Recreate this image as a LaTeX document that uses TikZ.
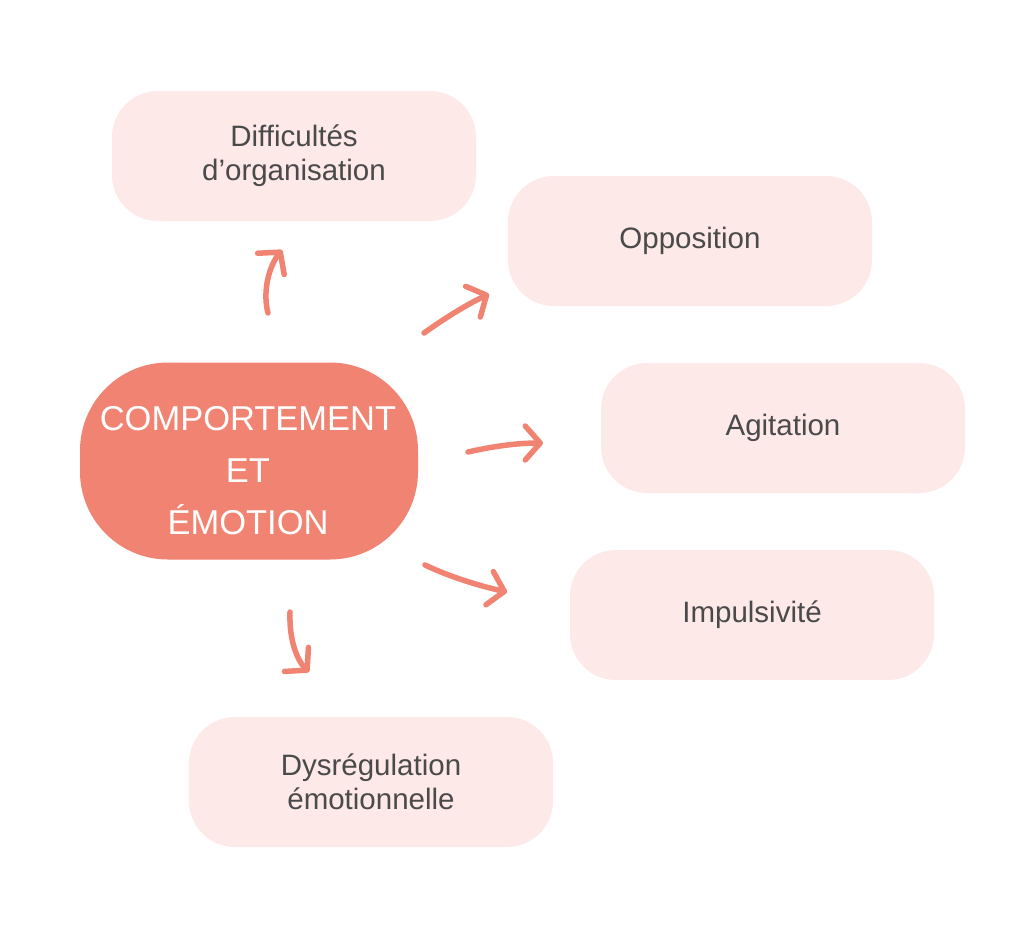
\documentclass[tikz,border=0pt]{standalone}
\usepackage{fontspec}
\setmainfont{Liberation Sans}
\usetikzlibrary{arrows.meta}
\definecolor{salmon}{HTML}{F08372}
\definecolor{blush}{HTML}{FDE9E7}
\definecolor{ink}{HTML}{4A4A4A}
\tikzset{
  leaf/.style={fill=blush, rounded corners=46pt, minimum width=364pt, minimum height=130pt,
    align=center, text=ink, font=\fontsize{29.5}{34}\selectfont},
  hub/.style={fill=salmon, rounded corners=88pt, minimum width=338pt, minimum height=197pt},
  hubtext/.style={align=center, text=white, font=\fontsize{34.5}{52}\selectfont},
  link/.style={draw=salmon, line width=5.5pt, line cap=round,
    -{Straight Barb[length=15pt,width=34pt,round,line width=5.5pt]}}
}
\begin{document}
\begin{tikzpicture}[x=1pt,y=-1pt]
\useasboundingbox (0,0) rectangle (1024,943);
\node[hub] (hub) at (249,461) {};
\node[hubtext] (hubt) at (248,471) {COMPORTEMENT\\ET\\ÉMOTION};
\node[leaf] (org) at (294,156) {Difficultés\\d’organisation};
\node[leaf] (opp) at (690,241) {Opposition};
\node[leaf] (agi) at (783,428) {Agitation};
\node[leaf] (imp) at (752,615) {Impulsivité};
\node[leaf] (dys) at (371,782) {Dysrégulation\\émotionnelle};
\coordinate (a1s) at (268,313); \coordinate (a1e) at (282,250);
\coordinate (a2s) at (424,333); \coordinate (a2e) at (489,294);
\coordinate (a3s) at (468,452); \coordinate (a3e) at (543,443);
\coordinate (a4s) at (425,565); \coordinate (a4e) at (507,592);
\coordinate (a5s) at (290,612); \coordinate (a5e) at (309,672);
\draw[link] (a1s) .. controls (262,290) and (270,265) .. (a1e);
\draw[link] (a2s) .. controls (445,318) and (466,305) .. (a2e);
\draw[link] (a3s) .. controls (490,447) and (515,443) .. (a3e);
\draw[link] (a4s) .. controls (450,577) and (480,586) .. (a4e);
\draw[link] (a5s) .. controls (289,640) and (297,660) .. (a5e);
\end{tikzpicture}
\end{document}
